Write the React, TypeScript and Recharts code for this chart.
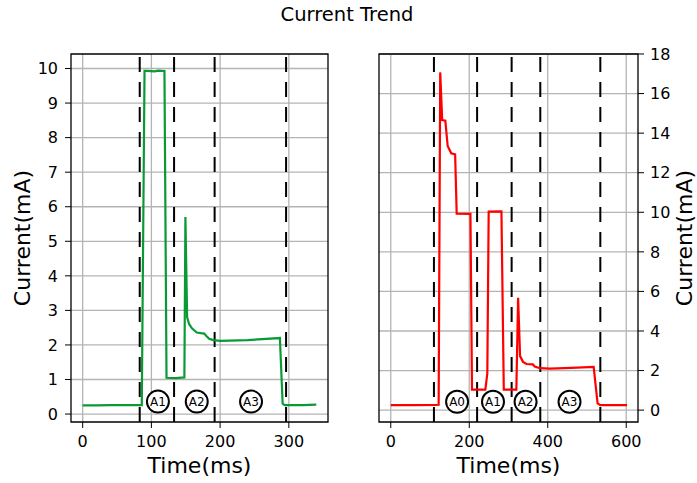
import { LineChart, Line, XAxis, YAxis, CartesianGrid, ReferenceLine, ReferenceDot, ReferenceArea } from "recharts";

// left panel (green)
const leftTime = [0, 20, 40, 60, 80, 86, 90, 93, 105, 110, 119, 122, 135, 148, 149.5, 152, 155, 159, 166, 172, 177, 180, 184, 190, 200, 240, 287, 291, 294, 320, 340];
const leftCurrent = [0.25, 0.25, 0.26, 0.26, 0.26, 0.26, 9.93, 9.93, 9.92, 9.94, 9.93, 1.05, 1.04, 1.06, 5.7, 2.8, 2.6, 2.48, 2.36, 2.34, 2.33, 2.26, 2.18, 2.14, 2.12, 2.14, 2.2, 0.3, 0.26, 0.26, 0.27];
const leftMarkers = [83, 133, 192, 296];
const leftTags = ["A1", "A2", "A3"];
const leftTagX = [109.5, 166, 245];
const leftXTicks = [0, 100, 200, 300];
const leftYTicks = [0, 1, 2, 3, 4, 5, 6, 7, 8, 9, 10];

// right panel (red)
const rightTime = [0, 60, 115, 122, 126, 131, 139, 145, 154, 164, 168, 203, 207, 241, 246, 249.5, 282, 288, 320, 324.5, 329.5, 337, 346, 362, 367, 380, 406, 460, 517, 527, 534, 570, 602];
const rightCurrent = [0.25, 0.25, 0.26, 0.27, 17.07, 14.66, 14.63, 13.35, 12.98, 12.93, 9.93, 9.92, 1.04, 1.04, 1.85, 10.03, 10.05, 1.04, 1.04, 5.68, 2.73, 2.44, 2.33, 2.31, 2.2, 2.12, 2.1, 2.14, 2.19, 0.34, 0.25, 0.25, 0.25];
const rightMarkers = [110, 220, 308, 381, 534];
const rightTags = ["A0", "A1", "A2", "A3"];
const rightTagX = [169, 260.5, 343.5, 455.5];
const rightXTicks = [0, 200, 400, 600];
const rightYTicks = [0, 2, 4, 6, 8, 10, 12, 14, 16, 18];

const FONT = "'DejaVu Sans', sans-serif";
const tickStyle = { fontSize: 16, fill: "#000", fontFamily: FONT };

const leftData = leftTime.map((t, i) => ({ t, c: leftCurrent[i] }));
const rightData = rightTime.map((t, i) => ({ t, c: rightCurrent[i] }));

function Tag({ x, y, text }: { x: number; y: number; text: string }) {
  return (
    <ReferenceDot
      x={x}
      y={y}
      r={11}
      fill="#fff"
      stroke="#000"
      strokeWidth={2}
      label={{ value: text, position: "center", fontSize: 12, fill: "#000", fontFamily: FONT }}
    />
  );
}

export default function App() {
  const lx: [number, number] = [-17, 357];
  const ly: [number, number] = [-0.23, 10.42];
  const rx: [number, number] = [-30, 630];
  const ry: [number, number] = [-0.6, 18];

  return (
    <div style={{ position: "absolute", left: 0, top: 0, width: 697, height: 483, background: "#fff", fontFamily: FONT }}>
      <div style={{ position: "absolute", left: 0, top: 0 }}>
        <LineChart width={340} height={483} data={leftData} margin={{ top: 54, right: 12, bottom: 0, left: 0 }}>
          <CartesianGrid stroke="#b4b4b4" strokeWidth={1.3} horizontalValues={leftYTicks} verticalValues={leftXTicks} />
          <XAxis dataKey="t" type="number" domain={lx} ticks={leftXTicks} allowDataOverflow height={61}
            tick={tickStyle} tickSize={6} tickMargin={8} stroke="#000" axisLine={false} />
          <YAxis type="number" domain={ly} ticks={leftYTicks} allowDataOverflow width={71}
            tick={tickStyle} tickSize={6} tickMargin={7} stroke="#000" axisLine={false} />
          <ReferenceArea x1={lx[0]} x2={lx[1]} y1={ly[0]} y2={ly[1]} fill="none" stroke="#000" strokeWidth={1.3} ifOverflow="visible" />
          {leftMarkers.map((m) => (
            <ReferenceLine key={m} x={m} stroke="#000" strokeWidth={2} strokeDasharray="15 10" />
          ))}
          <Line dataKey="c" type="linear" stroke="#0a9a35" strokeWidth={2.2} dot={false} isAnimationActive={false} />
          {leftTags.map((s, i) => (
            <Tag key={s} x={leftTagX[i]} y={0.36} text={s} />
          ))}
        </LineChart>
      </div>
      <div style={{ position: "absolute", left: 360, top: 0 }}>
        <LineChart width={337} height={483} data={rightData} margin={{ top: 54, right: 0, bottom: 0, left: 19 }}>
          <CartesianGrid stroke="#b4b4b4" strokeWidth={1.3} horizontalValues={rightYTicks} verticalValues={rightXTicks} />
          <XAxis dataKey="t" type="number" domain={rx} ticks={rightXTicks} allowDataOverflow height={61}
            tick={tickStyle} tickSize={6} tickMargin={8} stroke="#000" axisLine={false} />
          <YAxis type="number" orientation="right" domain={ry} ticks={rightYTicks} allowDataOverflow width={59}
            tick={tickStyle} tickSize={6} tickMargin={6} stroke="#000" axisLine={false} />
          <ReferenceArea x1={rx[0]} x2={rx[1]} y1={ry[0]} y2={ry[1]} fill="none" stroke="#000" strokeWidth={1.3} ifOverflow="visible" />
          {rightMarkers.map((m) => (
            <ReferenceLine key={m} x={m} stroke="#000" strokeWidth={2} strokeDasharray="15 10" />
          ))}
          <Line dataKey="c" type="linear" stroke="#ff0000" strokeWidth={2.2} dot={false} isAnimationActive={false} />
          {rightTags.map((s, i) => (
            <Tag key={s} x={rightTagX[i]} y={0.42} text={s} />
          ))}
        </LineChart>
      </div>
      <svg width={697} height={483} style={{ position: "absolute", left: 0, top: 0, pointerEvents: "none" }}>
        <g fontFamily={FONT} fill="#000">
          <text x={347} y={21} fontSize={19.5} textAnchor="middle">Current Trend</text>
          <text x={199.5} y={473} fontSize={22} textAnchor="middle">Time(ms)</text>
          <text x={508.5} y={473} fontSize={22} textAnchor="middle">Time(ms)</text>
          <text x={30} y={238} fontSize={22} textAnchor="middle" transform="rotate(-90 30 238)">Current(mA)</text>
          <text x={692} y={238} fontSize={22} textAnchor="middle" transform="rotate(-90 692 238)">Current(mA)</text>
        </g>
      </svg>
    </div>
  );
}
